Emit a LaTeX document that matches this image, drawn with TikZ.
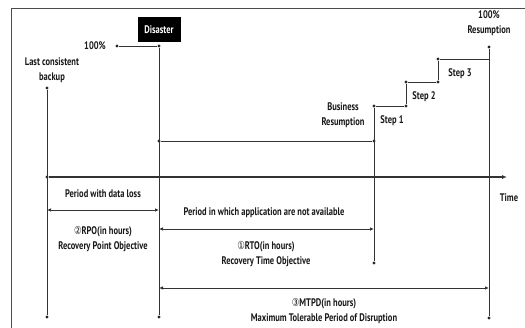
\documentclass[tikz,border=0pt]{standalone}
\usepackage{fontspec}
\setmainfont{PT Sans}[FakeStretch=0.77]
\newfontfamily\circfont{DejaVu Sans}[FakeStretch=0.77]
\usetikzlibrary{arrows.meta}

\tikzset{
  dot/.style={circle,fill=black!85,inner sep=0pt,minimum size=3.4pt},
  lbl/.style={font=\bfseries\fontsize{11}{14.5}\selectfont,align=center,inner sep=1pt,text=black!90},
  ln/.style={draw=black!80,line width=0.9pt},
  span/.style={ln,{Latex[length=4pt,width=3.5pt]}-{Latex[length=4pt,width=3.5pt]}},
}

\begin{document}
\begin{tikzpicture}[x=1pt,y=-1pt]
\useasboundingbox (0,0) rectangle (525,328);
\draw[black!70,line width=0.8pt] (11,8) rectangle (526,330);
            % Vertices
\node[dot] (lcb) at (47,88) {};
\node[dot] (lcbB) at (47,317) {};
\node[dot] (axS) at (47,177) {};
\coordinate (axE) at (507,177);
\node[dot] (full) at (117,46) {};
\node[dot] (dis) at (159,46) {};
\node[dot] (disM) at (159,141) {};
\node[dot] (disB) at (159,317) {};
\node[dot] (brM) at (374,141) {};
\node[dot] (br) at (374,106) {};
\node[dot] (brB) at (374,263) {};
\node[dot] (s1) at (406,106) {};
\node[dot] (s1t) at (406,82) {};
\node[dot] (s2) at (438,82) {};
\node[dot] (s2t) at (438,59) {};
\coordinate (s3) at (489,59);
\node[dot] (res) at (489,47) {};
\node[dot] (resB) at (489,318) {};
\coordinate (rpoL) at (47,210);
\coordinate (rpoR) at (159,210);
\coordinate (rtoL) at (159,229);
\coordinate (rtoR) at (374,229);
\coordinate (mtpdL) at (159,288);
\coordinate (mtpdR) at (489,288);
            % Labels
\node[lbl] (lcbT) at (52,70) {Last consistent\\backup};
\node[lbl,fill=black,text=white,minimum width=43pt,minimum height=25pt] (disT) at (159,30) {Disaster};
\node[lbl] (fullT) at (95,46) {100\%};
\node[lbl] (brT) at (343,115) {Business\\Resumption};
\node[lbl] (s1T) at (392,121) {Step 1};
\node[lbl] (s2T) at (424,97) {Step 2};
\node[lbl] (s3T) at (460,74) {Step 3};
\node[lbl] (resT) at (489,23) {100\%\\Resumption};
\node[lbl] (timeT) at (509,198) {Time};
\node[lbl] (lossT) at (103,194) {Period with data loss};
\node[lbl] (rpoT) at (103,239) {{\circfont\mdseries ②}RPO(in hours)\\Recovery Point Objective};
\node[lbl] (naT) at (264,213) {Period in which application are not available};
\node[lbl] (rtoT) at (266,254) {{\circfont\mdseries ①}RTO(in hours)\\Recovery Time Objective};
\node[lbl] (mtpdT) at (324,311) {{\circfont\mdseries ③}MTPD(in hours)\\Maximum Tolerable Period of Disruption};
            %Time line
\draw[ln,line width=1.3pt,-{Latex[length=5pt,width=4pt]}] (axS) -- (axE);
\draw[ln] (lcb) -- (lcbB);
\draw[ln] (full) -- (dis);
\draw[ln] (dis) -- (disB);
\draw[ln] (disM) -- (brM);
\draw[ln] (br) -- (brB);
            %Steps
\draw[ln] (br) -- (s1);
\draw[ln] (s1) -- (s1t);
\draw[ln] (s1t) -- (s2);
\draw[ln] (s2) -- (s2t);
\draw[ln] (s2t) -- (s3);
\draw[ln] (res) -- (resB);
            %Periods
\draw[span] (rpoL) -- (rpoR);
\draw[span] (rtoL) -- (rtoR);
\draw[span] (mtpdL) -- (mtpdR);
\end{tikzpicture}
\end{document}
